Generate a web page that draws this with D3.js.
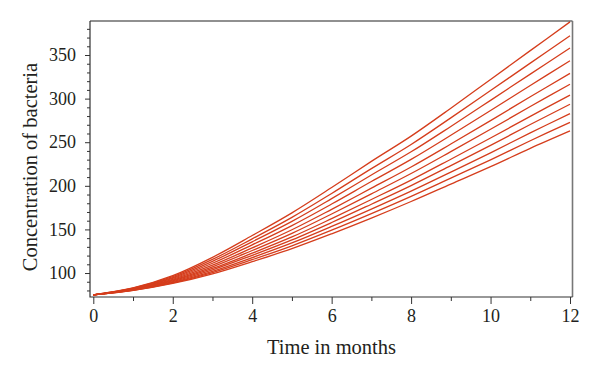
<!DOCTYPE html>
<html lang="en">
<head>
  <meta charset="UTF-8">
  <title>Concentration of bacteria</title>
  <script src="https://cdn.jsdelivr.net/npm/d3@7"></script>
  <style>
    body { margin: 0; background: #fff; }
    text { font-family: "Liberation Serif", "DejaVu Serif", serif; fill: #231f20; }
  </style>
</head>
<body>
  <svg width="600" height="376"></svg>
<script>
// time in months
var months = [0, 1, 2, 3, 4, 5, 6, 7, 8, 9, 10, 11, 12];

// 11 curves (top to bottom at t = 12)
var curve1  = [75, 83.0, 97.0, 118.0, 143.0, 169.0, 198.0, 228.0, 257.0, 289.0, 322.0, 355.0, 388.0];
var curve2  = [75, 82.6, 95.8, 115.6, 139.2, 163.8, 191.2, 219.7, 247.4, 277.9, 309.2, 340.7, 372.0];
var curve3  = [75, 82.3, 94.8, 113.4, 135.8, 159.2, 185.3, 212.4, 239.0, 268.1, 298.0, 328.1, 358.0];
var curve4  = [75, 81.9, 93.8, 111.2, 132.3, 154.4, 179.1, 204.9, 230.3, 258.0, 286.4, 315.1, 343.5];
var curve5  = [75, 81.6, 92.8, 109.0, 128.8, 149.6, 173.0, 197.3, 221.6, 247.9, 274.8, 302.1, 329.0];
var curve6  = [75, 81.3, 91.9, 107.1, 125.8, 145.5, 167.7, 190.8, 214.1, 239.2, 264.8, 290.9, 316.5];
var curve7  = [75, 81.0, 91.0, 105.2, 122.8, 141.4, 162.4, 184.3, 206.6, 230.5, 254.8, 279.7, 304.0];
var curve8  = [75, 80.7, 90.2, 103.6, 120.3, 138.0, 157.9, 178.9, 200.3, 223.2, 246.4, 270.3, 293.5];
var curve9  = [75, 80.5, 89.4, 102.0, 117.7, 134.5, 153.4, 173.3, 193.9, 215.7, 237.8, 260.7, 282.7];
var curve10 = [75, 80.2, 88.7, 100.5, 115.3, 131.2, 149.1, 168.1, 187.9, 208.8, 229.8, 251.7, 272.8];
var curve11 = [75, 80.0, 88.0, 99.0, 113.0, 128.0, 145.0, 163.0, 182.0, 202.0, 222.0, 243.0, 263.0];

var allCurves = [curve1, curve2, curve3, curve4, curve5, curve6, curve7, curve8, curve9, curve10, curve11];

// tick values
var xMajor = [0, 2, 4, 6, 8, 10, 12];
var xMinor = [1, 3, 5, 7, 9, 11];
var yMajor = [100, 150, 200, 250, 300, 350];
var yMinor = d3.range(80, 381, 10).filter(function(v) { return v % 50 != 0; });

var svg = d3.select("svg");
var plotL = 90, plotR = 572.5, plotT = 21, plotB = 297;

var x = d3.scaleLinear().domain([0, 12]).range([93.3, 570]);
var y = d3.scaleLinear().domain([72.5, 389]).range([plotB, plotT]);

// x axis: major + minor ticks
svg.append("g")
  .attr("transform", "translate(0," + plotB + ")")
  .call(d3.axisBottom(x).tickValues(xMajor).tickSize(7).tickPadding(5).tickFormat(d3.format("d")))
  .call(function(g) {
    g.select(".domain").remove();
    g.selectAll("line").attr("stroke", "#333");
    g.selectAll("text").attr("font-size", 18).attr("font-family", null).attr("fill", null);
  });
svg.append("g")
  .attr("transform", "translate(0," + plotB + ")")
  .call(d3.axisBottom(x).tickValues(xMinor).tickSize(4).tickFormat(""))
  .call(function(g) {
    g.select(".domain").remove();
    g.selectAll("line").attr("stroke", "#333");
  });

// y axis
svg.append("g")
  .attr("transform", "translate(" + plotL + ",0)")
  .call(d3.axisLeft(y).tickValues(yMajor).tickSize(5).tickPadding(9))
  .call(function(g) {
    g.select(".domain").remove();
    g.selectAll("line").attr("stroke", "#333");
    g.selectAll("text").attr("font-size", 18).attr("font-family", null).attr("fill", null);
  });
svg.append("g")
  .attr("transform", "translate(" + plotL + ",0)")
  .call(d3.axisLeft(y).tickValues(yMinor).tickSize(3).tickFormat(""))
  .call(function(g) {
    g.select(".domain").remove();
    g.selectAll("line").attr("stroke", "#333");
  });

// the curves
var line = d3.line()
  .x(function(d, i) { return x(months[i]); })
  .y(function(d) { return y(d); })
  .curve(d3.curveCatmullRom);

svg.append("g").selectAll("path")
  .data(allCurves)
  .enter().append("path")
  .attr("d", line)
  .attr("fill", "none")
  .attr("stroke", "#d53d1c")
  .attr("stroke-width", 1.3);

// frame
svg.append("path")
  .attr("d", "M" + plotL + "," + plotT + "H" + plotR)
  .attr("stroke", "#222").attr("stroke-width", 1.2).attr("fill", "none");
svg.append("path")
  .attr("d", "M" + plotR + "," + plotT + "V" + plotB)
  .attr("stroke", "#777").attr("stroke-width", 1.6).attr("fill", "none");
svg.append("path")
  .attr("d", "M" + plotL + "," + plotT + "V" + plotB + "H" + plotR)
  .attr("stroke", "#333").attr("stroke-width", 1.2).attr("fill", "none");

// axis titles
svg.append("text")
  .attr("x", 331.5).attr("y", 354)
  .attr("text-anchor", "middle")
  .attr("font-size", 20.5)
  .text("Time in months");

svg.append("text")
  .attr("transform", "translate(37,167) rotate(-90)")
  .attr("text-anchor", "middle")
  .attr("font-size", 20.5)
  .text("Concentration of bacteria");
</script>
</body>
</html>
